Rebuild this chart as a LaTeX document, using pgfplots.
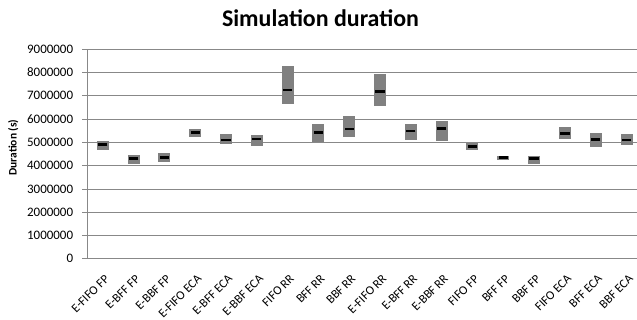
\documentclass[border=0pt]{standalone}
\usepackage{pgfplots}
\pgfplotsset{compat=1.18}
\usepackage{pgfplotstable}
\usepackage{fontspec}
\setmainfont{Carlito}
\definecolor{boxgray}{HTML}{808080}
\definecolor{gridgray}{HTML}{888888}
\pgfplotstableread{
x lo hi med
0 4680000 5060000 4910000
1 4080000 4440000 4300000
2 4170000 4540000 4360000
3 5240000 5560000 5430000
4 4940000 5340000 5100000
5 4840000 5320000 5140000
6 6660000 8280000 7250000
7 5010000 5770000 5420000
8 5240000 6130000 5570000
9 6550000 7940000 7180000
10 5100000 5770000 5490000
11 5070000 5930000 5590000
12 4660000 4970000 4830000
13 4260000 4430000 4340000
14 4080000 4410000 4300000
15 5130000 5660000 5390000
16 4790000 5390000 5130000
17 4900000 5340000 5100000
}\durations
\begin{document}
\begin{tikzpicture}
\useasboundingbox (0,0) rectangle (637bp,320bp);
\begin{axis}[
  at={(87.3bp,61.3bp)}, anchor=south west,
  scale only axis, width=549.7bp, height=209.4bp,
  xmin=-0.5, xmax=17.34, ymin=0, ymax=9000000,
  axis x line=bottom, axis y line=left,
  axis line style={-, gridgray, line width=0.7bp},
  ytick={0,1000000,...,9000000},
  ymajorgrids, grid style={gridgray, line width=0.7bp},
  scaled y ticks=false,
  yticklabel style={/pgf/number format/fixed, /pgf/number format/1000 sep={}, /pgf/number format/assume math mode=true, font=\fontsize{13}{15}\selectfont, inner sep=0pt, anchor=east, xshift=-9bp},
  tick align=outside, major tick length=5bp,
  tick style={gridgray, line width=0.7bp},
  xtick={0,...,17},
  xticklabels={E-FIFO FP, E-BFF FP, E-BBF FP, E-FIFO ECA, E-BFF ECA, E-BBF ECA, FIFO RR, BFF RR, BBF RR, E-FIFO RR, E-BFF RR, E-BBF RR, FIFO FP, BFF FP, BBF FP, FIFO ECA, BFF ECA, BBF ECA},
  x tick style={draw=none},
  xticklabel style={rotate=45, anchor=north east, font=\fontsize{12.5}{15}\selectfont, inner sep=0pt, xshift=-6bp, yshift=-8bp},
  extra x ticks={-0.5,0.5,...,16.5},
  extra x tick labels={},
  extra x tick style={tick style={draw=gridgray, line width=0.7bp}, major tick length=5bp},
  clip=false,
]
\addplot[draw=none, mark=none,
  error bars/.cd, y dir=both, y explicit, error mark=none,
  error bar style={line width=12bp, boxgray}]
  table[x=x, y expr={(\thisrow{lo}+\thisrow{hi})/2}, y error expr={(\thisrow{hi}-\thisrow{lo})/2}] {\durations};
\addplot[only marks, mark=-, mark size=4.6bp, mark options={line width=2.7bp, black}]
  table[x=x, y=med] {\durations};
\end{axis}
\node[font=\bfseries\fontsize{24}{28}\selectfont, anchor=base] at (320.5bp,293.3bp) {Simulation duration};
\node[font=\bfseries\fontsize{11.5}{14}\selectfont, rotate=90, anchor=base] at (16.5bp,172.5bp) {Duration (s)};
\end{tikzpicture}
\end{document}
